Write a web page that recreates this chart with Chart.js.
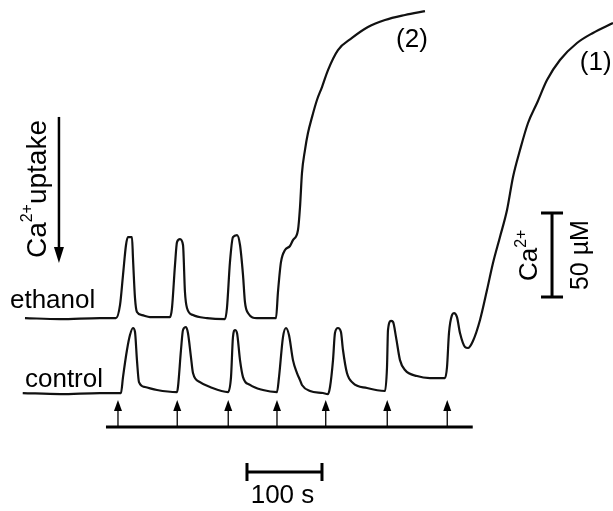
<!DOCTYPE html>
<html>
<head>
<meta charset="utf-8">
<script src="https://cdn.jsdelivr.net/npm/chart.js@4/dist/chart.umd.min.js"></script>
<style>
  body { margin: 0; background: #fff; }
  #wrap { width: 613px; height: 511px; }
</style>
</head>
<body>
<div id="wrap"><canvas id="chart" width="613" height="511"></canvas></div>
<script>
// time in s (0 = first Ca2+ pulse), Ca2+ in uM above each trace's own baseline
const controlTime = [-127, -77, -24, 0, 4, 6.7, 12, 16, 20, 22.7, 25.3, 28, 36, 52, 78.7,
  80, 84, 86.7, 90.7, 93.3, 97.3, 100, 109.3, 122.7, 146.7,
  150.7, 153.3, 156, 158.7, 162.7, 166.7, 176, 193.3, 212,
  214.7, 220, 224, 228, 233.3, 238.7, 242.7, 245.3, 256, 273.3, 280,
  282.7, 286.7, 289.3, 293.3, 297.3, 300, 305.3, 313.3, 332, 356,
  358.7, 360, 364, 366.7, 370.7, 376, 382.7, 398.7, 416, 436,
  438.7, 441.3, 445.3, 448, 452, 456, 462.7, 466.7, 473.3, 482.7, 492,
  500, 509.3, 518.7, 526.7, 536, 546.7, 558.7, 572, 589.3, 612, 633.3, 660];
const controlCa = [0, -0.6, 0, 0, 0, 9.5, 25.6, 34.5, 38.7, 36.3, 19.6, 6.5, 3.6, 1.8, 0.6,
  3.6, 25.6, 37.5, 39.3, 35.7, 21.4, 11.9, 6.5, 3.6, 0.6,
  9.5, 33.3, 37.5, 35.7, 19.6, 9.5, 4.8, 1.8, 0.6,
  9.5, 33.3, 38.7, 34.5, 19.6, 11.9, 7.7, 4.8, 1.2, 0, -0.6,
  3.6, 19.6, 35.7, 38.7, 36.3, 25.6, 11.9, 6, 3, 1.2,
  15.5, 37.5, 42.9, 42.3, 33.3, 19.6, 13.7, 10.1, 8.9, 8.9,
  15.5, 35.7, 46.4, 47.6, 45.2, 35.7, 27.4, 26.8, 31, 43.5, 61.3,
  77.4, 92.9, 108.9, 128.6, 144.6, 160.7, 172.6, 186.3, 198.2, 208.3, 214.3, 220.2];

const ethanolTime = [-124, -77.3, -24, -2.7, 2.7, 6.7, 10.7, 13.3, 18.7, 20, 22.7, 25.3, 32, 42.7, 69.3,
  72, 76, 78.7, 82.7, 86.7, 89.3, 92, 100, 118.7, 142.7,
  145.3, 149.3, 153.3, 158.7, 162.7, 166.7, 169.3, 173.3, 185.3, 210.7,
  213.3, 217.3, 222.7, 229.3, 233.3, 240, 242.7, 245.3, 249.3, 253.3, 258.7, 265.3, 272,
  280, 293.3, 312, 333.3, 356, 382.7, 409.3];
const ethanolCa = [0, -0.6, 0, 0, 7.7, 25.6, 43.5, 48.2, 48.2, 35.7, 11.9, 3.6, 1.8, 0.6, 0.6,
  6, 31.5, 45.2, 47, 43.5, 15.5, 6, 1.8, 0, -0.6,
  6, 33.3, 48.2, 49.4, 43.5, 25.6, 9.5, 3, 0, 0,
  15.5, 33.3, 40.5, 42.9, 46.4, 52.4, 66.1, 86.3, 100, 110.1, 119.6, 129.8, 137.5,
  147.6, 159.5, 166.7, 173.2, 177.4, 180.4, 182.7];

const pulseTimes = [0, 79, 147, 212, 277, 359, 439];
const traceNames = ['ethanol', 'control'];
const curveTags = ['(2)', '(1)'];
const timeBarSec = 100;
const caBarUM = 50;

const ETH_SHIFT = 44.6; // vertical offset of the ethanol trace on the page
const FONT = "'Liberation Sans', Arial, sans-serif";

function pts(xs, ys, shift) {
  return xs.map((x, i) => ({ x: x, y: ys[i] + shift }));
}

// text with a superscript, drawn along the current x direction
function supText(ctx, parts, x, y, size, supSize, raise, align) {
  let total = 0;
  const w = parts.map(p => {
    ctx.font = (p.sup ? supSize : size) + 'px ' + FONT;
    return ctx.measureText(p.t).width;
  });
  w.forEach(v => total += v);
  let cx = align === 'center' ? x - total / 2 : x;
  parts.forEach((p, i) => {
    ctx.font = (p.sup ? supSize : size) + 'px ' + FONT;
    ctx.fillText(p.t, cx, p.sup ? y - raise : y);
    cx += w[i];
  });
}

const extras = {
  id: 'extras',
  afterDatasetsDraw(chart) {
    const ctx = chart.ctx;
    const X = v => chart.scales.x.getPixelForValue(v);
    const Y = v => chart.scales.y.getPixelForValue(v);
    ctx.save();
    ctx.strokeStyle = '#000';
    ctx.fillStyle = '#000';
    ctx.lineCap = 'butt';

    // pulse line and arrows
    const lineY = Y(-20.2);
    ctx.lineWidth = 3;
    ctx.beginPath();
    ctx.moveTo(X(-16), lineY);
    ctx.lineTo(X(473), lineY);
    ctx.stroke();
    pulseTimes.forEach(t => {
      const px = X(t), tip = Y(-4.2);
      ctx.lineWidth = 1.3;
      ctx.beginPath();
      ctx.moveTo(px, lineY);
      ctx.lineTo(px, tip + 8);
      ctx.stroke();
      ctx.beginPath();
      ctx.moveTo(px, tip);
      ctx.lineTo(px - 4, tip + 11);
      ctx.lineTo(px + 4, tip + 11);
      ctx.closePath();
      ctx.fill();
    });

    // time scale bar
    const tb0 = X(172), tb1 = X(172 + timeBarSec), tbY = Y(-47);
    ctx.lineWidth = 3;
    ctx.beginPath();
    ctx.moveTo(tb0, tbY); ctx.lineTo(tb1, tbY);
    ctx.moveTo(tb0, tbY - 9); ctx.lineTo(tb0, tbY + 9);
    ctx.moveTo(tb1, tbY - 9); ctx.lineTo(tb1, tbY + 9);
    ctx.stroke();
    ctx.font = '26px ' + FONT;
    ctx.textAlign = 'center';
    ctx.textBaseline = 'alphabetic';
    ctx.fillText(timeBarSec + ' s', (tb0 + tb1) / 2 - 2, tbY + 31);

    // Ca2+ scale bar
    const cbX = X(578.7), cb0 = Y(57.1), cb1 = Y(57.1 + caBarUM);
    ctx.beginPath();
    ctx.moveTo(cbX, cb0); ctx.lineTo(cbX, cb1);
    ctx.moveTo(cbX - 11, cb0); ctx.lineTo(cbX + 11, cb0);
    ctx.moveTo(cbX - 11, cb1); ctx.lineTo(cbX + 11, cb1);
    ctx.stroke();
    ctx.save();
    ctx.translate(cbX - 15, (cb0 + cb1) / 2);
    ctx.rotate(-Math.PI / 2);
    ctx.textAlign = 'left';
    supText(ctx, [{ t: 'Ca' }, { t: '2+', sup: true }], -26, 0, 26, 16, 11, 'left');
    ctx.restore();
    ctx.save();
    ctx.translate(cbX + 36, (cb0 + cb1) / 2);
    ctx.rotate(-Math.PI / 2);
    ctx.textAlign = 'center';
    ctx.font = '25px ' + FONT;
    ctx.fillText(caBarUM + ' \u00b5M', 0, 0);
    ctx.restore();

    // Ca2+ uptake arrow and label
    const ax = X(-78.7), a0 = Y(164.3), a1 = Y(77.4);
    ctx.lineWidth = 2.5;
    ctx.beginPath();
    ctx.moveTo(ax, a0); ctx.lineTo(ax, a1 - 12);
    ctx.stroke();
    ctx.beginPath();
    ctx.moveTo(ax, a1);
    ctx.lineTo(ax - 5, a1 - 16);
    ctx.lineTo(ax + 5, a1 - 16);
    ctx.closePath();
    ctx.fill();
    ctx.save();
    ctx.translate(X(-96), Y(121.4));
    ctx.rotate(-Math.PI / 2);
    ctx.textAlign = 'left';
    supText(ctx, [{ t: 'Ca' }, { t: '2+', sup: true }, { t: 'uptake' }], 0, 0, 28, 16, 14, 'center');
    ctx.restore();

    // trace names and curve tags
    ctx.textAlign = 'left';
    ctx.font = '26px ' + FONT;
    ctx.fillText(traceNames[0], X(-144), Y(50.6));
    ctx.fillText(traceNames[1], X(-124), Y(3.6));
    ctx.textAlign = 'center';
    ctx.textBaseline = 'middle';
    ctx.fillText(curveTags[0], X(392), Y(210.1));
    ctx.fillText(curveTags[1], X(637), Y(196.4));
    ctx.restore();
  }
};

new Chart(document.getElementById('chart'), {
  type: 'line',
  data: {
    datasets: [
      { label: traceNames[0], data: pts(ethanolTime, ethanolCa, ETH_SHIFT) },
      { label: traceNames[1], data: pts(controlTime, controlCa, 0) }
    ]
  },
  options: {
    responsive: false,
    animation: false,
    devicePixelRatio: 1,
    layout: { padding: 0 },
    elements: {
      line: { borderColor: '#111', borderWidth: 2.2, cubicInterpolationMode: 'monotone', fill: false },
      point: { radius: 0 }
    },
    plugins: { legend: { display: false }, tooltip: { enabled: false } },
    scales: {
      x: { type: 'linear', display: false, min: -157.3, max: 660 },
      y: { type: 'linear', display: false, min: -70.2, max: 233.9 }
    }
  },
  plugins: [extras]
});
</script>
</body>
</html>
